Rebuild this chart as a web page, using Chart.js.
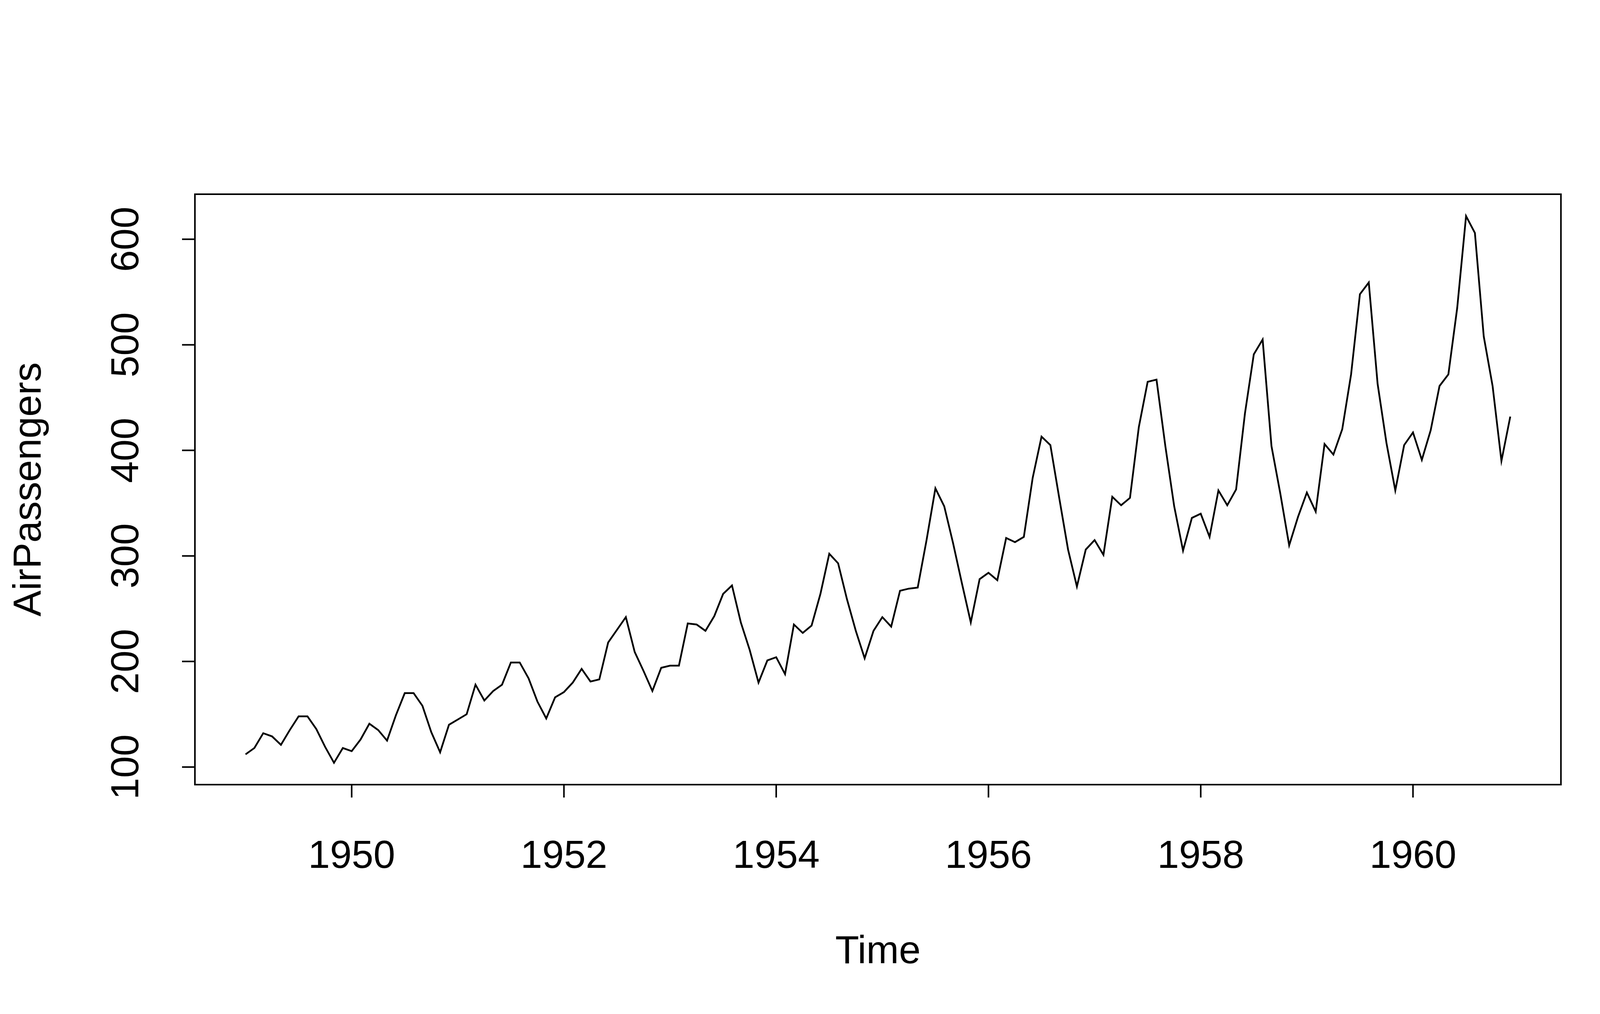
<!DOCTYPE html>
<html>
<head>
<meta charset="utf-8">
<script src="https://cdn.jsdelivr.net/npm/chart.js@4"></script>
<style>
  html, body { margin: 0; padding: 0; background: #fff; }
  #wrap { width: 4200px; height: 2595px; }
</style>
</head>
<body>
<div id="wrap"><canvas id="myChart" width="4200" height="2595"></canvas></div>
<script>
// monthly totals, one row per year
const years = [1949, 1950, 1951, 1952, 1953, 1954, 1955, 1956, 1957, 1958, 1959, 1960];
const passengers = [
    [112, 118, 132, 129, 121, 135, 148, 148, 136, 119, 104, 118],
    [115, 126, 141, 135, 125, 149, 170, 170, 158, 133, 114, 140],
    [145, 150, 178, 163, 172, 178, 199, 199, 184, 162, 146, 166],
    [171, 180, 193, 181, 183, 218, 230, 242, 209, 191, 172, 194],
    [196, 196, 236, 235, 229, 243, 264, 272, 237, 211, 180, 201],
    [204, 188, 235, 227, 234, 264, 302, 293, 259, 229, 203, 229],
    [242, 233, 267, 269, 270, 315, 364, 347, 312, 274, 237, 278],
    [284, 277, 317, 313, 318, 374, 413, 405, 355, 306, 271, 306],
    [315, 301, 356, 348, 355, 422, 465, 467, 404, 347, 305, 336],
    [340, 318, 362, 348, 363, 435, 491, 505, 404, 359, 310, 337],
    [360, 342, 406, 396, 420, 472, 548, 559, 463, 407, 362, 405],
    [417, 391, 419, 461, 472, 535, 622, 606, 508, 461, 390, 432]
];
const xTicks = [1950, 1952, 1954, 1956, 1958, 1960];
const yTicks = [100, 200, 300, 400, 500, 600];

const points = [];
years.forEach((y, i) => passengers[i].forEach((v, m) => points.push({ x: y + m / 12, y: v })));

const FONT = '100px "Liberation Sans", Arial, sans-serif';

// R-style box, ticks and labels drawn through the chart's scales
const rAxes = {
    id: 'rAxes',
    afterDraw(chart) {
        const ctx = chart.ctx;
        const a = chart.chartArea;
        const xs = chart.scales.x, ys = chart.scales.y;
        const tl = 33;
        ctx.save();
        ctx.strokeStyle = '#000';
        ctx.lineWidth = 4;
        ctx.strokeRect(a.left, a.top, a.right - a.left, a.bottom - a.top);
        ctx.fillStyle = '#000';
        ctx.font = FONT;

        ctx.beginPath();
        xTicks.forEach(t => {
            const px = xs.getPixelForValue(t);
            ctx.moveTo(px, a.bottom);
            ctx.lineTo(px, a.bottom + tl);
        });
        yTicks.forEach(t => {
            const py = ys.getPixelForValue(t);
            ctx.moveTo(a.left, py);
            ctx.lineTo(a.left - tl, py);
        });
        ctx.stroke();

        ctx.textAlign = 'center';
        ctx.textBaseline = 'middle';
        xTicks.forEach(t => ctx.fillText(String(t), xs.getPixelForValue(t), 2193));
        yTicks.forEach(t => {
            ctx.save();
            ctx.translate(326, ys.getPixelForValue(t));
            ctx.rotate(-Math.PI / 2);
            ctx.fillText(String(t), 0, 0);
            ctx.restore();
        });

        ctx.fillText('Time', (a.left + a.right) / 2, 2437);
        ctx.save();
        ctx.translate(76, (a.top + a.bottom) / 2);
        ctx.rotate(-Math.PI / 2);
        ctx.fillText('AirPassengers', 0, 0);
        ctx.restore();
        ctx.restore();
    }
};

const ctx = document.getElementById('myChart').getContext('2d');
new Chart(ctx, {
    type: 'line',
    data: {
        datasets: [{
            data: points,
            borderColor: '#000',
            borderWidth: 4.5,
            pointRadius: 0,
            tension: 0,
            fill: false
        }]
    },
    options: {
        responsive: false,
        animation: false,
        layout: { padding: { left: 499, right: 204, top: 497, bottom: 587 } },
        plugins: { legend: { display: false }, tooltip: { enabled: false } },
        scales: {
            x: { type: 'linear', min: 1948.523, max: 1961.394, display: false },
            y: { type: 'linear', min: 83.3, max: 642.7, display: false }
        }
    },
    plugins: [rAxes]
});
</script>
</body>
</html>
